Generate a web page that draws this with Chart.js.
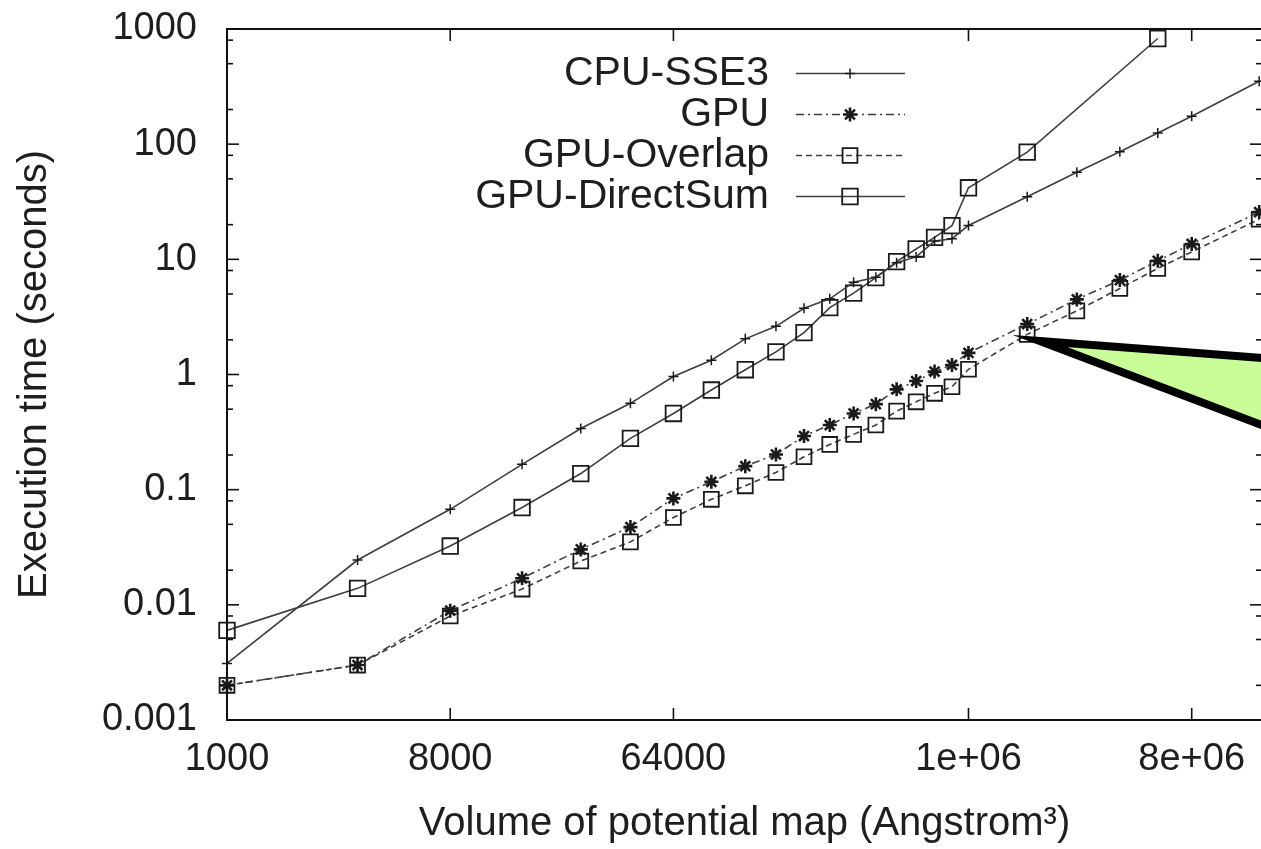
<!DOCTYPE html>
<html><head><meta charset="utf-8">
<script src="https://cdn.jsdelivr.net/npm/chart.js@4.4.1/dist/chart.umd.min.js"></script>
<style>
html,body{margin:0;padding:0;background:#fff;overflow:hidden;}
#wrap{width:1290px;height:849px;}
</style></head><body>
<div id="wrap"><canvas id="c" width="1290" height="849"></canvas></div>
<script>
// ---- data ----
const volumes = [1000, 3375, 8000, 15625, 27000, 42875, 64000, 91125, 125000, 166375, 216000, 274625, 343000, 421875, 512000, 614125, 729000, 857375, 1000000, 1728000, 2744000, 4096000, 5832000, 8000000, 15000000];
const cpuSSE3 = [0.0031, 0.0245, 0.0675, 0.166, 0.34, 0.562, 0.96, 1.33, 2.04, 2.62, 3.76, 4.54, 6.34, 7.0, 9.36, 10.5, 14.4, 15.1, 19.7, 34.9, 57.1, 85.8, 125, 175, 352];
const gpu = [0.002, 0.003, 0.0089, 0.017, 0.0303, 0.0473, 0.084, 0.117, 0.16, 0.202, 0.292, 0.364, 0.459, 0.553, 0.743, 0.877, 1.06, 1.21, 1.54, 2.74, 4.49, 6.6, 9.7, 13.6, 25.7];
const gpuOverlap = [0.002, 0.003, 0.008, 0.0137, 0.024, 0.0352, 0.0573, 0.0824, 0.108, 0.141, 0.193, 0.247, 0.302, 0.364, 0.481, 0.579, 0.686, 0.782, 1.11, 2.23, 3.57, 5.59, 8.34, 11.6, 22.3];
const gpuDirectSum = [0.006, 0.0139, 0.0324, 0.07, 0.138, 0.279, 0.459, 0.733, 1.1, 1.57, 2.31, 3.81, 5.09, 6.93, 9.55, 12.3, 15.5, 19.6, 41.8, 85.3, null, null, 827, null, null];
const seriesNames = ['CPU-SSE3', 'GPU', 'GPU-Overlap', 'GPU-DirectSum'];
const xTickValues = [1000, 8000, 64000, 1000000, 8000000];
const xTickLabels = ['1000', '8000', '64000', '1e+06', '8e+06'];
const yTickValues = [0.001, 0.01, 0.1, 1, 10, 100, 1000];
const yTickLabels = ['0.001', '0.01', '0.1', '1', '10', '100', '1000'];
const yMinorMultipliers = [2, 5, 8];
const xRange = [1000, 1.54e7];
const yRange = [0.001, 1000];
// callout triangle (data coordinates): apex, upper-right, lower-right
const calloutX = [1.945e6, 1.64e7, 1.64e7];
const calloutY = [1.95, 1.38, 0.345];

const FONT = '"Liberation Sans", Arial, Helvetica, sans-serif';
const LINE = '#3e3e3e';
const MARK = '#1a1a1a';

function makeSet(label, values, style) {
  return Object.assign({
    label,
    data: volumes.map((v, i) => ({x: v, y: values[i]})),
    borderColor: LINE, borderWidth: 1.6,
    pointBorderColor: MARK, pointBackgroundColor: 'rgba(0,0,0,0)',
    pointHoverRadius: 0, fill: false, tension: 0, spanGaps: true, clip: false
  }, style);
}
const datasets = [
  makeSet(seriesNames[0], cpuSSE3, {pointStyle: 'cross', pointRadius: 5, pointBorderWidth: 1.5, borderDash: []}),
  makeSet(seriesNames[1], gpu, {pointStyle: 'star', pointRadius: 7, pointBorderWidth: 2.6, borderDash: [8, 4, 2, 4]}),
  makeSet(seriesNames[2], gpuOverlap, {pointStyle: 'rect', pointRadius: 10.5, pointBorderWidth: 1.8, borderDash: [6, 4]}),
  makeSet(seriesNames[3], gpuDirectSum, {pointStyle: 'rect', pointRadius: 11, pointBorderWidth: 1.8, borderDash: []})
];

function seg(ctx, x1, y1, x2, y2) { ctx.beginPath(); ctx.moveTo(x1, y1); ctx.lineTo(x2, y2); ctx.stroke(); }

const framePlugin = {
  id: 'frameTicks',
  afterDatasetsDraw(chart) {
    const {ctx, chartArea: a, scales: {x, y}} = chart;
    ctx.save();
    ctx.strokeStyle = '#111';
    ctx.lineWidth = 2;
    ctx.strokeRect(a.left, a.top, a.right - a.left, a.bottom - a.top);
    ctx.lineWidth = 1.6;
    yTickValues.forEach((v, i) => {
      const py = y.getPixelForValue(v);
      seg(ctx, a.left, py, a.left + 12, py);
      seg(ctx, a.right, py, a.right - 12, py);
      if (i < yTickValues.length - 1) {
        yMinorMultipliers.forEach(m => {
          const pm = y.getPixelForValue(v * m);
          seg(ctx, a.left, pm, a.left + 6, pm);
          seg(ctx, a.right, pm, a.right - 6, pm);
        });
      }
    });
    xTickValues.forEach(v => {
      const px = x.getPixelForValue(v);
      seg(ctx, px, a.bottom, px, a.bottom - 12);
      seg(ctx, px, a.top, px, a.top + 12);
    });
    ctx.restore();
  }
};

const keyPlugin = {
  id: 'keyBox',
  afterDraw(chart) {
    const ctx = chart.ctx;
    ctx.save();
    ctx.font = '41px ' + FONT;
    ctx.textAlign = 'right';
    ctx.textBaseline = 'middle';
    chart.data.datasets.forEach((d, i) => {
      const yy = 73.5 + i * 41;
      ctx.fillStyle = '#1e1e1e';
      ctx.fillText(d.label, 769, yy);
      ctx.strokeStyle = d.borderColor;
      ctx.lineWidth = d.borderWidth;
      ctx.setLineDash(d.borderDash || []);
      seg(ctx, 796, yy, 905, yy);
      ctx.setLineDash([]);
      ctx.strokeStyle = MARK;
      ctx.fillStyle = 'rgba(0,0,0,0)';
      ctx.lineWidth = d.pointBorderWidth;
      Chart.helpers.drawPoint(ctx, {pointStyle: d.pointStyle, radius: d.pointRadius, borderWidth: d.pointBorderWidth, rotation: 0}, 850, yy);
    });
    ctx.restore();
  }
};

const calloutPlugin = {
  id: 'callout',
  afterDraw(chart) {
    const {ctx, scales: {x, y}} = chart;
    ctx.save();
    ctx.beginPath();
    calloutX.forEach((v, i) => {
      const px = x.getPixelForValue(v), py = y.getPixelForValue(calloutY[i]);
      if (i === 0) ctx.moveTo(px, py); else ctx.lineTo(px, py);
    });
    ctx.closePath();
    ctx.fillStyle = '#c8fd98';
    ctx.fill();
    ctx.lineJoin = 'miter';
    ctx.miterLimit = 10;
    ctx.lineWidth = 8;
    ctx.strokeStyle = '#000';
    ctx.stroke();
    ctx.restore();
  }
};

new Chart(document.getElementById('c'), {
  type: 'line',
  data: {datasets},
  options: {
    responsive: false,
    animation: false,
    events: [],
    layout: {padding: {top: 29, right: 28, left: 0, bottom: 0}},
    plugins: {legend: {display: false}, tooltip: {enabled: false}},
    scales: {
      x: {
        type: 'logarithmic', min: xRange[0], max: xRange[1],
        grid: {display: false, drawTicks: false},
        border: {display: false},
        afterBuildTicks(s) { s.ticks = xTickValues.map(v => ({value: v})); },
        afterFit(s) { s.height = 129; s.paddingLeft = 0; s.paddingRight = 0; },
        ticks: {
          autoSkip: false, maxRotation: 0, minRotation: 0, padding: 17,
          color: '#1e1e1e', font: {family: FONT, size: 38},
          callback: (v, i) => xTickLabels[i]
        },
        title: {display: true, text: 'Volume of potential map (Angstrom³)', color: '#1e1e1e',
          font: {family: FONT, size: 40, lineHeight: 1}, padding: {top: 0, bottom: 5}}
      },
      y: {
        type: 'logarithmic', min: yRange[0], max: yRange[1],
        grid: {display: false, drawTicks: false},
        border: {display: false},
        afterBuildTicks(s) { s.ticks = yTickValues.map(v => ({value: v})); },
        afterFit(s) { s.width = 227; s.paddingTop = 0; s.paddingBottom = 0; },
        ticks: {
          autoSkip: false, padding: 30,
          color: '#1e1e1e', font: {family: FONT, size: 38},
          callback: (v, i) => yTickLabels[i]
        },
        title: {display: true, text: 'Execution time (seconds)', color: '#1e1e1e',
          font: {family: FONT, size: 40, lineHeight: 1.2}, padding: {top: 11, bottom: 0}}
      }
    }
  },
  plugins: [framePlugin, keyPlugin, calloutPlugin]
});
</script>
</body></html>
